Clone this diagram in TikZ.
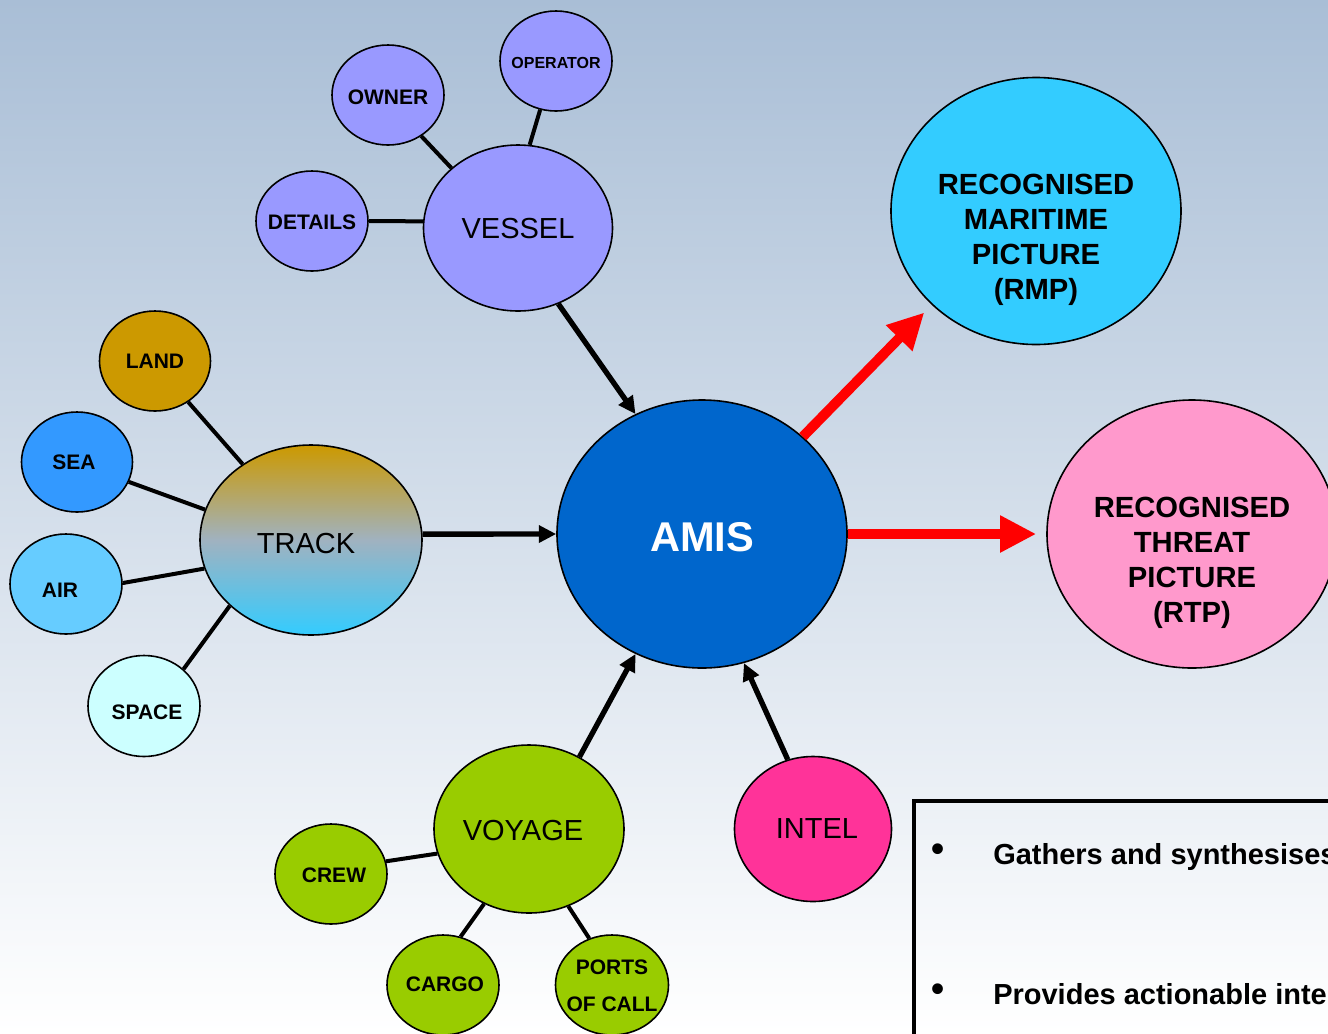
\documentclass[tikz,border=0pt]{standalone}
\usepackage{fontspec}
\setmainfont{Liberation Sans}
\usetikzlibrary{shapes.geometric,arrows.meta}
\definecolor{bgtop}{RGB}{169,190,214}
\definecolor{vio}{HTML}{9999FF}
\definecolor{rmpc}{HTML}{33CCFF}
\definecolor{rtpc}{HTML}{FF99CC}
\definecolor{amisc}{HTML}{0066CC}
\definecolor{intelc}{HTML}{FF3399}
\definecolor{voyc}{HTML}{99CC00}
\definecolor{landc}{HTML}{CC9900}
\definecolor{seac}{HTML}{3399FF}
\definecolor{airc}{HTML}{66CCFF}
\definecolor{spacec}{HTML}{CCFFFF}
\definecolor{trackmid}{RGB}{160,178,192}
\begin{document}
\begin{tikzpicture}[x=0.75pt,y=-0.75pt,
  bub/.style n args={3}{ellipse, draw=black, line width=1.2pt,
    minimum width=#1*0.75pt, minimum height=#2*0.75pt, inner sep=0pt, fill=#3},
  smalltxt/.style={font=\fontsize{15.75}{27.75}\selectfont\bfseries, align=center},
  tinytxt/.style={font=\fontsize{12}{14}\selectfont\bfseries},
  midtxt/.style={font=\fontsize{21.75}{26}\selectfont},
  bigtxt/.style={font=\fontsize{21.9}{26.25}\selectfont\bfseries, align=center},
  amistxt/.style={font=\fontsize{31.2}{36}\selectfont\bfseries, text=white},
  boxtxt/.style={font=\fontsize{21.75}{26}\selectfont\bfseries},
  bullettxt/.style={font=\fontsize{28}{30}\selectfont\bfseries},
  link/.style={line width=3pt},
  arr/.style={line width=4pt, -{Triangle[length=13pt,width=12.5pt]}},
  rarr/.style={draw=red, line width=7.5pt, -{Triangle[length=27pt,width=26pt]}}
]
\useasboundingbox (0,0) rectangle (1328,1033);
\clip (0,0) rectangle (1328,1033);
\shade[top color=bgtop, bottom color=white] (0,0) rectangle (1328,1033);

% vessel group
\node[bub={112}{100}{vio}, label={[tinytxt,yshift=-1.5pt]center:OPERATOR}] (op) at (556,61) {};
\node[bub={112}{100}{vio}, label={[smalltxt,yshift=-1.5pt]center:OWNER}] (own) at (388,95) {};
\node[bub={112}{100}{vio}, label={[smalltxt,yshift=-0.75pt]center:DETAILS}] (det) at (312,221) {};
\node[bub={189}{166}{vio}, label={[midtxt,yshift=-0.75pt]center:VESSEL}] (ves) at (518,228) {};

% pictures
\node[bub={290}{267}{rmpc}, label={[bigtxt,yshift=-21.75pt]center:RECOGNISED\\MARITIME\\PICTURE\\(RMP)}] (rmp) at (1036,211) {};
\node[bub={290}{268}{rtpc}, label={[bigtxt,yshift=-21.25pt]center:RECOGNISED\\THREAT\\PICTURE\\(RTP)}] (rtp) at (1192,534) {};

% track group
\node[bub={111}{100}{landc}, label={[smalltxt]center:LAND}] (land) at (155,361) {};
\node[bub={111}{100}{seac}, label={[smalltxt,xshift=-2.25pt]center:SEA}] (sea) at (77,462) {};
\node[bub={112}{100}{airc}, label={[smalltxt,xshift=-4.5pt,yshift=-4.5pt]center:AIR}] (air) at (66,584) {};
\node[bub={112}{101}{spacec}, label={[smalltxt,xshift=2.25pt,yshift=-4.5pt]center:SPACE}] (space) at (144,706) {};
\node[ellipse, draw=black, line width=1.2pt, minimum width=222*0.75pt, minimum height=190*0.75pt,
  inner sep=0pt, top color=landc, bottom color=rmpc, middle color=trackmid,
  label={[midtxt,xshift=-3.75pt,yshift=-2.75pt]center:TRACK}] (track) at (311,540) {};

% centre
\node[bub={290}{268}{amisc}, label={[amistxt,yshift=-2.75pt]center:AMIS}] (amis) at (702,534) {};

% intel
\node[bub={157}{145}{intelc}, label={[midtxt,xshift=3pt]center:INTEL}] (intel) at (813,829) {};

% voyage group
\node[bub={190}{168}{voyc}, label={[midtxt,xshift=-4.5pt,yshift=-1.5pt]center:VOYAGE}] (voy) at (529,829) {};
\node[bub={112}{100}{voyc}, label={[smalltxt,xshift=2.25pt,yshift=-0.75pt]center:CREW}] (crew) at (331,874) {};
\node[bub={112}{100}{voyc}, label={[smalltxt,xshift=1.5pt,yshift=0.75pt]center:CARGO}] (cargo) at (443,985) {};
\node[bub={113}{100}{voyc}, label={[smalltxt,yshift=-0.75pt]center:PORTS\\OF CALL}] (ports) at (612,985) {};

% connectors
\draw[link] (op.-108) -- (ves.82);
\draw[link] (own.-51) -- (ves.138);
\draw[link] (det.0) -- (ves.176);
\draw[arr] (ves.-62) -- (amis.119);
\draw[link] (land.-51) -- (track.132);
\draw[link] (sea.-21) -- (track.164);
\draw[link] (air.1) -- (track.-165);
\draw[link] (space.43) -- (track.-141);
\draw[arr] (track.3) -- (amis.180);
\draw[rarr, shorten >=8pt] (amis.44) -- (rmp.-138);
\draw[rarr, shorten >=7.5pt] (amis.0) -- (rtp.180);
\draw[arr] (voy.55) -- (amis.-119);
\draw[arr] (intel.110) -- (amis.-72);
\draw[link] (crew.13) -- (voy.195);
\draw[link] (cargo.70) -- (voy.-121);
\draw[link] (ports.116) -- (voy.-63);

% text box
\draw[line width=2.4pt] (914,801) rectangle (1345,1050);
\node[bullettxt] (b1) at (938,853) {\textbullet};
\node[boxtxt, anchor=base west, inner sep=0pt] (t1) at (993,864) {Gathers and synthesises};
\node[bullettxt] (b2) at (938,993) {\textbullet};
\node[boxtxt, anchor=base west, inner sep=0pt] (t2) at (993,1004) {Provides actionable inte};
\end{tikzpicture}
\end{document}
